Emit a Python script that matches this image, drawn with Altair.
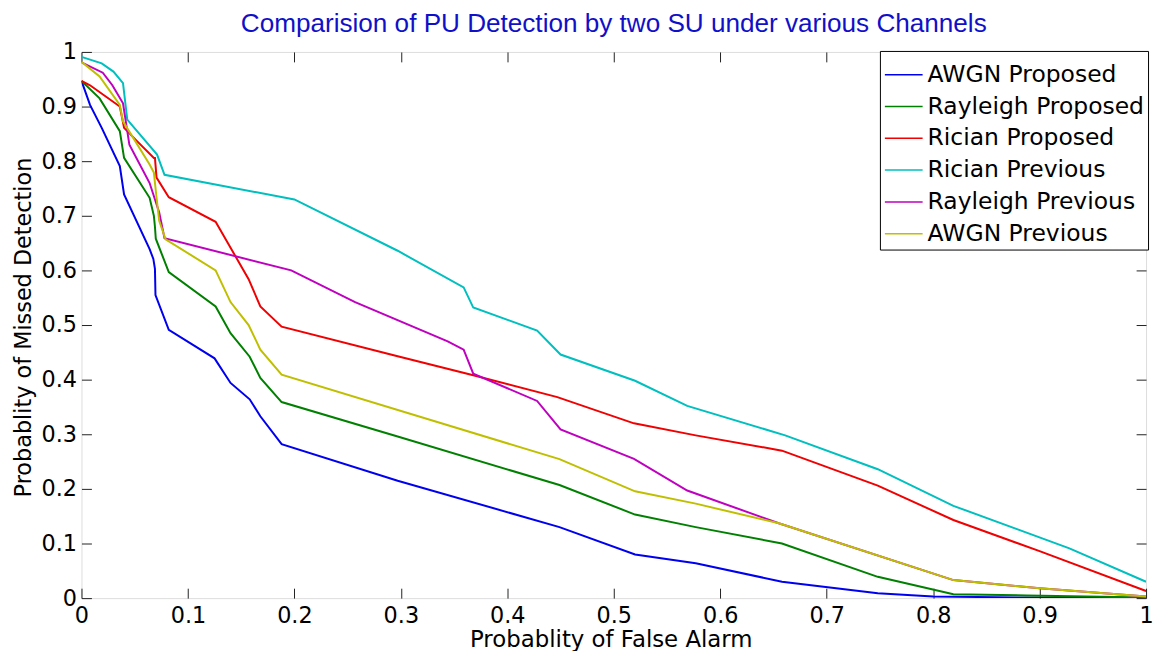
import altair as alt
import pandas as pd

series_names = ["AWGN Proposed", "Rayleigh Proposed", "Rician Proposed",
                "Rician Previous", "Rayleigh Previous", "AWGN Previous"]
series_colors = ["#0000F0", "#008000", "#F00000", "#00BFBF", "#BF00BF", "#BFBF00"]

awgn_prop_x = [0, 0.008, 0.019, 0.036, 0.040, 0.064, 0.0675, 0.069, 0.0695, 0.082, 0.125,
               0.140, 0.158, 0.168, 0.188, 0.297, 0.449, 0.520, 0.577, 0.658, 0.748, 0.800, 0.888, 1.0]
awgn_prop_y = [0.947, 0.903, 0.861, 0.791, 0.739, 0.639, 0.621, 0.603, 0.555, 0.491, 0.439,
               0.394, 0.364, 0.333, 0.282, 0.215, 0.130, 0.080, 0.064, 0.030, 0.009, 0.003, 0.001, 0.0]

rayl_prop_x = [0, 0.017, 0.036, 0.040, 0.064, 0.068, 0.069, 0.0698, 0.082, 0.126, 0.140,
               0.158, 0.168, 0.188, 0.297, 0.449, 0.520, 0.577, 0.658, 0.748, 0.819, 0.888, 1.0]
rayl_prop_y = [0.947, 0.915, 0.855, 0.806, 0.733, 0.700, 0.680, 0.658, 0.597, 0.534, 0.485,
               0.442, 0.403, 0.359, 0.296, 0.207, 0.153, 0.130, 0.100, 0.039, 0.007, 0.005, 0.001]

rician_prop_x = [0, 0.008, 0.036, 0.040, 0.051, 0.068, 0.069, 0.0705, 0.082, 0.126, 0.157,
                 0.168, 0.188, 0.297, 0.368, 0.447, 0.519, 0.577, 0.658, 0.748, 0.819, 0.900, 1.0]
rician_prop_y = [0.947, 0.939, 0.900, 0.861, 0.839, 0.806, 0.806, 0.770, 0.734, 0.689, 0.584,
                 0.534, 0.497, 0.443, 0.408, 0.368, 0.320, 0.298, 0.270, 0.206, 0.143, 0.086, 0.013]

rician_prev_x = [0, 0.019, 0.030, 0.039, 0.043, 0.071, 0.078, 0.200, 0.297, 0.359, 0.368,
                 0.428, 0.450, 0.520, 0.569, 0.661, 0.748, 0.819, 0.928, 1.0]
rician_prev_y = [0.991, 0.979, 0.964, 0.943, 0.876, 0.812, 0.775, 0.730, 0.636, 0.569, 0.532,
                 0.490, 0.446, 0.398, 0.352, 0.298, 0.236, 0.169, 0.091, 0.030]

rayl_prev_x = [0, 0.020, 0.029, 0.039, 0.045, 0.064, 0.073, 0.078, 0.197, 0.257, 0.344,
               0.359, 0.368, 0.428, 0.450, 0.519, 0.569, 0.655, 0.819, 0.900, 1.0]
rayl_prev_y = [0.981, 0.962, 0.939, 0.906, 0.830, 0.760, 0.706, 0.659, 0.600, 0.542, 0.470,
               0.455, 0.411, 0.361, 0.309, 0.255, 0.197, 0.137, 0.033, 0.018, 0.003]

awgn_prev_x = [0, 0.017, 0.036, 0.039, 0.064, 0.068, 0.0705, 0.073, 0.079, 0.126, 0.140,
               0.157, 0.168, 0.188, 0.449, 0.520, 0.577, 0.655, 0.819, 0.900, 1.0]
awgn_prev_y = [0.982, 0.955, 0.903, 0.873, 0.794, 0.779, 0.733, 0.691, 0.657, 0.600, 0.542,
               0.500, 0.455, 0.409, 0.2545, 0.1955, 0.173, 0.137, 0.033, 0.018, 0.003]

tick_values = [0, 0.1, 0.2, 0.3, 0.4, 0.5, 0.6, 0.7, 0.8, 0.9, 1]

all_x = [awgn_prop_x, rayl_prop_x, rician_prop_x, rician_prev_x, rayl_prev_x, awgn_prev_x]
all_y = [awgn_prop_y, rayl_prop_y, rician_prop_y, rician_prev_y, rayl_prev_y, awgn_prev_y]

rows = []
for name, xs, ys in zip(series_names, all_x, all_y):
    for i, (xv, yv) in enumerate(zip(xs, ys)):
        rows.append({"series": name, "x": xv, "y": yv, "idx": i})
df = pd.DataFrame(rows)

AXFONT = "DejaVu Sans"
TFONT = "Liberation Sans"
xscale = alt.Scale(domain=[0, 1], nice=False, zero=False)
yscale = alt.Scale(domain=[0, 1], nice=False, zero=False)

common_axis = dict(values=tick_values, tickSize=10, offset=-10, domain=False, grid=False,
                   tickColor="#222222", tickWidth=1)

lines = alt.Chart(df).mark_line(strokeWidth=2, clip=True).encode(
    x=alt.X("x:Q", scale=xscale,
            axis=alt.Axis(orient="bottom", format="~g", labelFontSize=22.5, labelColor="black",
                          labelFont=AXFONT, labelPadding=7, labelFlush=False,
                          title="Probablity of False Alarm", titleFont=AXFONT, titleFontSize=23,
                          titleFontWeight="normal", titleColor="black",
                          titleX=533, titleY=59, titleBaseline="alphabetic", titleAlign="center",
                          **common_axis)),
    y=alt.Y("y:Q", scale=yscale,
            axis=alt.Axis(orient="left", format="~g", labelFontSize=22.5, labelColor="black",
                          labelFont=AXFONT, labelPadding=5,
                          title="Probablity of Missed Detection", titleFont=AXFONT,
                          titleFontSize=22.5, titleFontWeight="normal", titleColor="black",
                          titleX=-61, titleY=277, titleAngle=270, titleBaseline="alphabetic",
                          titleAlign="center",
                          **common_axis)),
    color=alt.Color("series:N",
                    scale=alt.Scale(domain=series_names, range=series_colors),
                    legend=alt.Legend(title=None, orient="none", legendX=804, legendY=-1,
                                      symbolType="stroke", symbolSize=1444, symbolStrokeWidth=1.5,
                                      labelFont=AXFONT, labelFontSize=23.6, labelColor="black",
                                      labelLimit=400, labelOffset=4, padding=4, rowPadding=0,
                                      strokeColor="black", fillColor="white", cornerRadius=0)),
    order=alt.Order("idx:Q"),
)

frame_axes = alt.Chart(df).mark_line(opacity=0).encode(
    x=alt.X("x:Q", scale=xscale,
            axis=alt.Axis(orient="top", labels=False, title=None, **common_axis)),
    y=alt.Y("y:Q", scale=yscale,
            axis=alt.Axis(orient="right", labels=False, title=None, **common_axis)),
    detail="series:N",
    order=alt.Order("idx:Q"),
)

chart = alt.layer(lines, frame_axes).resolve_axis(
    x="independent", y="independent"
).properties(
    width=1072, height=550,
    autosize=alt.AutoSizeParams(type="none"),
    padding={"left": 74, "top": 42, "right": 8, "bottom": 51},
    title=alt.TitleParams("Comparision of PU Detection by two SU under various Channels",
                          font=TFONT, fontSize=26.3, fontWeight="normal", color="#1010C8",
                          anchor="middle", baseline="alphabetic", offset=7, dy=24),
).configure_view(stroke="black", strokeWidth=1).configure(background="white")

chart.save("out.html", embed_options={"renderer": "svg", "actions": False})
